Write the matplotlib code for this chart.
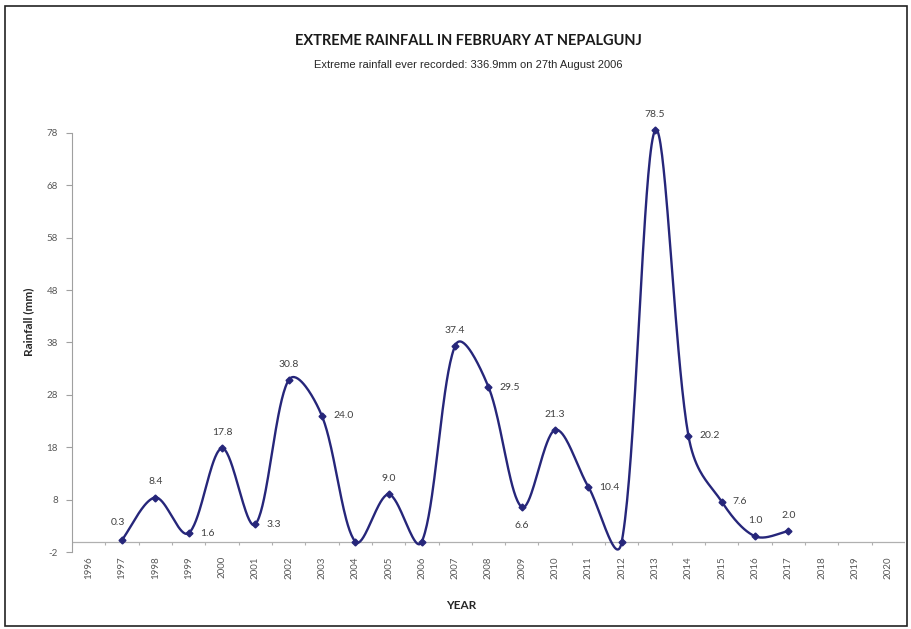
import numpy as np
import matplotlib.pyplot as plt
from matplotlib.patches import Rectangle

plt.rcParams['axes.unicode_minus'] = False

# data
years = [str(y) for y in range(1996, 2021)]
rain_years = list(range(1997, 2018))
rainfall = [0.3, 8.4, 1.6, 17.8, 3.3, 30.8, 24.0, 0.0, 9.0, 0.0, 37.4,
            29.5, 6.6, 21.3, 10.4, 0.0, 78.5, 20.2, 7.6, 1.0, 2.0]
# where each data label sits relative to its point
label_pos = ['left', 'above', 'right', 'above', 'right', 'above', 'right', None,
             'above', None, 'above', 'right', 'below', 'above', 'right', None,
             'above', 'right', 'right', 'above', 'above']

line_color = '#26267a'
grey = '#595959'


def smooth(ax, x, y, n=40):
    # Excel style smoothed line: bezier segments, tangents scaled by
    # segment lengths measured on screen
    pts = ax.transData.transform(np.column_stack([x, y]))
    p = np.vstack([pts[0], pts, pts[-1]])
    t = np.linspace(0, 1, n)[:, None]
    out = []
    for i in range(len(pts) - 1):
        p0, p1, p2, p3 = p[i], p[i + 1], p[i + 2], p[i + 3]
        d01 = np.hypot(*(p1 - p0))
        d12 = np.hypot(*(p2 - p1))
        d23 = np.hypot(*(p3 - p2))
        f1 = np.sqrt(2 * d12 / (d01 + d12)) / 6 if d01 + d12 > 0 else 0
        f2 = np.sqrt(2 * d12 / (d12 + d23)) / 6 if d12 + d23 > 0 else 0
        c1 = p1 + (p2 - p0) * f1
        c2 = p2 - (p3 - p1) * f2
        b = (1 - t) ** 3 * p1 + 3 * (1 - t) ** 2 * t * c1 + 3 * (1 - t) * t ** 2 * c2 + t ** 3 * p2
        out.append(b)
    out = np.vstack(out)
    return ax.transData.inverted().transform(out)


fig = plt.figure(figsize=(9.12, 6.29), dpi=100)
fig.patches.append(Rectangle((5 / 912, 3 / 629), 902 / 912, 620 / 629, transform=fig.transFigure,
                             fill=False, edgecolor='#222222', linewidth=1.2))

ax = fig.add_axes([72 / 912, 77 / 629, 833 / 912, 419 / 629])
xi = [years.index(str(y)) for y in rain_years]

ax.set_xlim(-0.5, len(years) - 0.5)
ax.set_ylim(-2, 78)

curve = smooth(ax, xi, rainfall)
ax.plot(curve[:, 0], curve[:, 1], color=line_color, linewidth=1.7, zorder=3, clip_on=False)
ax.plot(xi, rainfall, linestyle='none', marker='D', markersize=3.5,
        color=line_color, zorder=4, clip_on=False)

offsets = {'above': (0, 8, 'center', 'bottom'),
           'below': (0, -10, 'center', 'top'),
           'right': (8, 0, 'left', 'center'),
           'left': (-3, 9, 'center', 'bottom')}
for x, v, pos in zip(xi, rainfall, label_pos):
    if pos is None:
        continue
    dx, dy, ha, va = offsets[pos]
    ax.annotate(f'{v:.1f}', (x, v), xytext=(dx, dy), textcoords='offset points',
                ha=ha, va=va, fontsize=7.5, color='#404040', family='Lato',
                annotation_clip=False)

ax.set_yticks(np.arange(-2, 79, 10))
ax.set_xticks(range(len(years)))
ax.set_xticklabels(years, rotation=90, fontsize=7, color=grey, family='Lato')
ax.tick_params(axis='x', length=0, pad=3)
ax.tick_params(axis='y', length=4, color='#a0a0a0', labelsize=7, labelcolor=grey, pad=6)
for lab in ax.get_yticklabels():
    lab.set_family('Lato')

for s in ['top', 'right', 'bottom']:
    ax.spines[s].set_visible(False)
ax.spines['left'].set_color('#a0a0a0')
# horizontal axis crosses at zero
ax.axhline(0, color='#b0b0b0', linewidth=0.9, zorder=1)
ax.vlines(np.arange(-0.5, len(years), 1), -0.7, 0, color='#b0b0b0', linewidth=0.8)

ax.set_ylabel('Rainfall (mm)', fontsize=8.5, fontweight='bold', color='#262626',
              family='Lato')
ax.yaxis.set_label_coords(-0.045, 0.55)
ax.set_xlabel('YEAR', fontsize=8.5, fontweight='bold', color='#262626',
              family='Lato')
ax.xaxis.set_label_coords(0.467, -0.115)

fig.text(468 / 912, 1 - 41 / 629, 'EXTREME RAINFALL IN FEBRUARY AT NEPALGUNJ',
         ha='center', va='center', fontsize=10.5, fontweight='bold',
         color='#1a1a1a', family='Lato')
fig.text(468 / 912, 1 - 65 / 629, 'Extreme rainfall ever recorded: 336.9mm on 27th August 2006',
         ha='center', va='center', fontsize=8, color='#262626', family='Liberation Sans')

fig.savefig('out.png', dpi=100)
